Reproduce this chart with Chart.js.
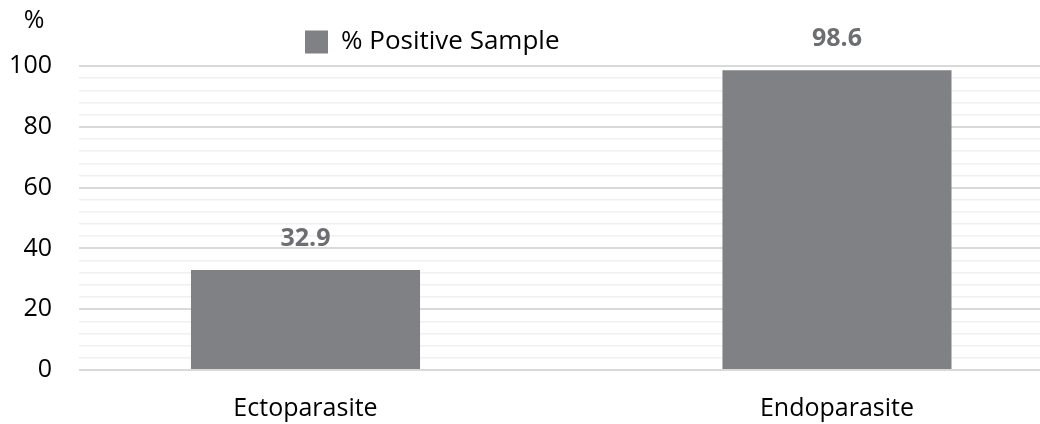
<!DOCTYPE html>
<html lang="en">
<head>
    <meta charset="UTF-8">
    <title>% Positive Sample</title>
    <script src="https://cdn.jsdelivr.net/npm/chart.js"></script>
    <style>
        body {
            margin: 0;
            background: #ffffff;
        }

        .chart-container {
            position: relative;
            width: 1040px;
            height: 424px;
        }
    </style>
</head>
<body>
    <div class="chart-container">
        <canvas id="positiveChart"></canvas>
    </div>

    <script>
        // Data
        const categories = ['Ectoparasite', 'Endoparasite'];
        const positiveValues = [32.9, 98.6];
        const seriesName = '% Positive Sample';
        const yTicks = [0, 20, 40, 60, 80, 100];

        const barColor = '#808185';
        const fontFamily = "'Open Sans', sans-serif";

        // value labels above bars and the "%" unit mark
        const labelPlugin = {
            id: 'barLabels',
            afterLayout(chart) {
                // put the legend where the reference has it
                chart.legend.left = 295;
                chart.legend.top = 19;
            },
            afterDatasetsDraw(chart) {
                const ctx = chart.ctx;
                const meta = chart.getDatasetMeta(0);
                ctx.save();
                ctx.font = 'bold 25px ' + fontFamily;
                ctx.fillStyle = '#6d6e71';
                ctx.textAlign = 'center';
                ctx.textBaseline = 'middle';
                meta.data.forEach((bar, i) => {
                    ctx.fillText(positiveValues[i].toFixed(1), bar.x, bar.y - 31);
                });
                ctx.font = '25px ' + fontFamily;
                ctx.fillStyle = '#000000';
                ctx.fillText('%', 34, 21);
                ctx.restore();
            }
        };

        const ctx = document.getElementById('positiveChart').getContext('2d');
        new Chart(ctx, {
            type: 'bar',
            data: {
                datasets: [{
                    label: seriesName,
                    data: categories.map((c, i) => ({ x: i, y: positiveValues[i] })),
                    backgroundColor: barColor,
                    borderWidth: 0,
                    categoryPercentage: 1,
                    barPercentage: 0.431
                }]
            },
            options: {
                responsive: true,
                maintainAspectRatio: false,
                animation: false,
                layout: {
                    padding: { top: 66, left: 0, right: 0, bottom: 0 }
                },
                scales: {
                    x: {
                        type: 'linear',
                        bounds: 'data',
                        offset: false,
                        min: -0.4262,
                        max: 1.382,
                        afterBuildTicks(scale) {
                            scale.ticks = categories.map((c, i) => ({ value: i }));
                        },
                        afterFit(scale) { scale.height = 54; },
                        grid: { display: false },
                        border: { display: false },
                        ticks: {
                            autoSkip: false,
                            maxRotation: 0,
                            padding: 16,
                            color: '#000000',
                            font: { family: fontFamily, size: 25 },
                            callback: v => categories[v] ?? ''
                        }
                    },
                    y: {
                        min: 0,
                        max: 100,
                        afterFit(scale) { scale.width = 79; },
                        border: { display: false },
                        grid: {
                            drawTicks: false,
                            color: c => yTicks.includes(c.tick.value) ? '#d9d9d9' : '#f0f0f0',
                            lineWidth: c => yTicks.includes(c.tick.value) ? 2 : 1.5
                        },
                        ticks: {
                            stepSize: 4,
                            autoSkip: false,
                            padding: 27,
                            color: '#000000',
                            font: { family: fontFamily, size: 25 },
                            callback: v => yTicks.includes(v) ? v : ''
                        }
                    }
                },
                plugins: {
                    tooltip: { enabled: false },
                    legend: {
                        position: 'chartArea',
                        fullSize: false,
                        align: 'start',
                        labels: {
                            boxWidth: 23,
                            boxHeight: 23,
                            padding: 10,
                            color: '#000000',
                            font: { family: fontFamily, size: 26 }
                        }
                    }
                }
            },
            plugins: [labelPlugin]
        });
    </script>
</body>
</html>
